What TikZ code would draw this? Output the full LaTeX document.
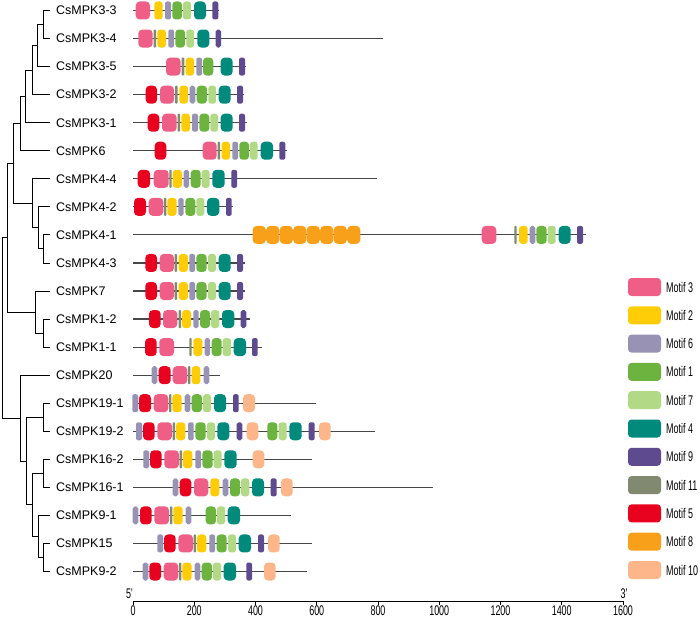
\documentclass[tikz,border=0pt]{standalone}
\usepackage{fontspec}
\setmainfont{Liberation Sans}
\usepackage{graphicx}
\usetikzlibrary{positioning}

\definecolor{mthree}{HTML}{EE5E87}
\definecolor{mtwo}{HTML}{FFCC08}
\definecolor{msix}{HTML}{9893B5}
\definecolor{mone}{HTML}{6DB33F}
\definecolor{mseven}{HTML}{B2D986}
\definecolor{mfour}{HTML}{008A7B}
\definecolor{mnine}{HTML}{5E4A8E}
\definecolor{meleven}{HTML}{818A70}
\definecolor{mfive}{HTML}{E8021F}
\definecolor{meight}{HTML}{F9A01B}
\definecolor{mten}{HTML}{FDB68A}

\tikzset{
  branch/.style={black, line width=0.9pt},
  backbone/.style={black!72, line width=1.2pt},
  axisline/.style={black, line width=0.9pt},
  gene/.style={anchor=west, inner sep=0pt, font=\fontsize{12.5}{14}\selectfont},
  legtext/.style={anchor=west, inner sep=0pt, font=\fontsize{14}{14}\selectfont},
  ticklab/.style={inner sep=0pt, font=\fontsize{14}{14}\selectfont}
}

\newcommand{\narrow}[1]{\scalebox{0.64}[1]{#1}}
% one motif box: row, from, to, colour
\newcommand{\motifbox}[4]{%
  \pgfmathsetmacro{\rr}{min(4,0.35*(#3-#2))}
  \fill[#4, rounded corners=\rr pt] (#2,{10.5+28.05*#1-9}) rectangle (#3,{10.5+28.05*#1+9});}
% one protein: row, end, list of motifs
\newcommand{\generow}[3]{%
  \draw[backbone] (133,{10.5+28.05*#1}) -- (#2,{10.5+28.05*#1});
  \foreach \a/\b/\c in {#3} {\motifbox{#1}{\a}{\b}{\c}}}

\begin{document}
\begin{tikzpicture}[x=1pt, y=-1pt]
	\useasboundingbox (0,0) rectangle (700,617);

	% leaves and names
	\foreach \g [count=\i from 0] in {CsMPK3-3,CsMPK3-4,CsMPK3-5,CsMPK3-2,CsMPK3-1,CsMPK6,CsMPK4-4,CsMPK4-2,CsMPK4-1,CsMPK4-3,CsMPK7,CsMPK1-2,CsMPK1-1,CsMPK20,CsMPK19-1,CsMPK19-2,CsMPK16-2,CsMPK16-1,CsMPK9-1,CsMPK15,CsMPK9-2} {
		\coordinate (l\i) at (50,{10.5+28.05*\i});
		\node[gene, right=6pt of l\i] (g\i) {\g};
	}

	% inner nodes of the tree
	\coordinate (n1) at (43,24.5);
	\coordinate (n2) at (37,45.6);
	\coordinate (n3) at (32,70.1);
	\coordinate (n4) at (25,96.4);
	\coordinate (n5) at (20,123.6);
	\coordinate (n6) at (43,248.9);
	\coordinate (n7) at (38,227.9);
	\coordinate (n8) at (32,203.3);
	\coordinate (n9) at (13.3,163.5);
	\coordinate (n10) at (43,333.1);
	\coordinate (n11) at (35,312.0);
	\coordinate (n12) at (7.3,237.8);
	\coordinate (n13) at (43,417.2);
	\coordinate (n14) at (43,473.3);
	\coordinate (n15) at (43,557.5);
	\coordinate (n16) at (38,536.5);
	\coordinate (n17) at (32,504.9);
	\coordinate (n18) at (26,461.1);
	\coordinate (n19) at (20,418.1);
	\coordinate (root) at (2.7,328);

	\foreach \p/\c in {n1/l0,n1/l1,n2/n1,n2/l2,n3/n2,n3/l3,n4/n3,n4/l4,n5/n4,n5/l5,
		n6/l8,n6/l9,n7/l7,n7/n6,n8/l6,n8/n7,n9/n5,n9/n8,
		n10/l11,n10/l12,n11/l10,n11/n10,n12/n9,n12/n11,
		n13/l14,n13/l15,n14/l16,n14/l17,n15/l19,n15/l20,n16/l18,n16/n15,
		n17/n14,n17/n16,n18/n13,n18/n17,n19/l13,n19/n18,root/n12,root/n19}
		\draw[branch] (\p) |- (\c);

	% motifs
	\generow{0}{219}{135.7/150/mthree,154.3/162.7/mtwo,165/171/msix,172.3/182/mone,183/191/mseven,194/206/mfour,212.3/218.3/mnine}
	\generow{1}{383.3}{138.3/152.7/mthree,153.5/156/meleven,157.3/166/mtwo,168.3/174/msix,175.3/185/mone,186.3/194/mseven,197.3/209.3/mfour,215.7/221/mnine}
	\generow{2}{246}{166/180.7/mthree,181.7/184.3/meleven,185.7/194/mtwo,196.3/202/msix,203/213.3/mone,220.7/232.7/mfour,239/245/mnine}
	\generow{3}{244.3}{145.7/157/mfive,160/174/mthree,175/177.7/meleven,179.3/188/mtwo,189.7/195.3/msix,196.7/207/mone,208.3/216/mseven,218.7/230.7/mfour,237/243/mnine}
	\generow{4}{246.7}{147.7/159.3/mfive,162/176.7/mthree,177.7/180/meleven,181.3/190/mtwo,192/198/msix,199.3/209.3/mone,210.3/218/mseven,220.7/232.7/mfour,239/245/mnine}
	\generow{5}{286.7}{154.7/166.3/mfive,202.7/216.7/mthree,217.7/220/meleven,221.7/230/mtwo,232.3/238/msix,239.3/249/mone,250/257.7/mseven,260.7/273/mfour,279.3/285.3/mnine}
	\generow{6}{376.7}{137.7/150/mfive,153.7/168.7/mthree,169.3/171.7/meleven,172.7/182/mtwo,183.7/189/msix,190.7/200.7/mone,201.7/209.7/mseven,212.3/224.7/mfour,231.3/237/mnine}
	\generow{7}{233.3}{134/146/mfive,148.7/163.3/mthree,164/166.3/meleven,167.3/176.7/mtwo,178.3/183.7/msix,185.3/195.3/mone,196.3/204.3/mseven,207/219.3/mfour,226/231.7/mnine}
	\generow{8}{585.7}{481.7/496.3/mthree,514.3/516.7/meleven,519/527.7/mtwo,529.7/535.3/msix,536.3/546.7/mone,547.7/555.7/mseven,558.7/570.7/mfour,577/583/mnine}
	\foreach \k in {0,...,7}
		\motifbox{8}{252.7+13.5*\k}{265.8+13.5*\k}{meight};
	\generow{9}{245}{145.3/157/mfive,159.7/174/mthree,174.7/177/meleven,178.7/188/mtwo,189.3/195/msix,196.3/206.7/mone,208/216/mseven,218.7/230.7/mfour,237/243/mnine}
	\generow{10}{245}{145.3/157/mfive,159.7/174/mthree,174.7/177/meleven,178.7/188/mtwo,189.3/195/msix,196.3/206.7/mone,208/216/mseven,218.7/230.7/mfour,237/243/mnine}
	\generow{11}{250}{149/160.7/mfive,163/177.3/mthree,178.7/181/meleven,182/191/mtwo,193.3/198.7/msix,200/210/mone,211/219.3/mseven,222/234.3/mfour,240.7/246.3/mnine}
	\generow{12}{261.7}{145/156.7/mfive,159.3/174/mthree,189.3/191.7/meleven,193.3/202.3/mtwo,204.7/210/msix,211.7/221.7/mone,222.7/231/mseven,233.7/246/mfour,252/257.7/mnine}
	\generow{13}{220}{151.7/157.3/msix,158.7/170.7/mfive,172.7/187.3/mthree,188/190.3/meleven,191.7/200.3/mtwo,203.7/209.3/msix}
	\generow{14}{315.7}{132.3/138/msix,139/151/mfive,153.7/168.3/mthree,169/171.3/meleven,172.3/181.7/mtwo,184.7/190.3/msix,191.7/202/mone,203/211/mseven,214/226/mfour,233/238.7/mnine,243/255/mten}
	\generow{15}{375}{136/142/msix,143/154.7/mfive,157.3/172/mthree,172.7/175/meleven,176/185.3/mtwo,188/193.7/msix,195.3/205.7/mone,207/215/mseven,217.3/229.3/mfour,236.7/242.3/mnine,246.7/258.3/mten,267.3/277.3/mone,278.7/286.7/mseven,289.3/301.7/mfour,308.7/314.7/mnine,319/330.7/mten}
	\generow{16}{312.3}{143.3/149/msix,150/161.7/mfive,164.3/179/mthree,179.7/182/meleven,183/192.3/mtwo,195.3/201/msix,202.3/212.7/mone,213.7/221.7/mseven,224.3/236.7/mfour,252.7/264.3/mten}
	\generow{17}{432.6}{172.7/178.3/msix,179.7/191.3/mfive,194/208.3/mthree,210.3/219.3/mtwo,222.7/228.3/msix,230/240/mone,241/249.3/mseven,252/264/mfour,270.7/276.7/mnine,281/292.7/mten}
	\generow{18}{290.7}{132.7/138.3/msix,140/151.7/mfive,154.3/169/mthree,170/172.3/meleven,173.3/182.7/mtwo,185.7/191.3/msix,205.7/216/mone,217/225/mseven,227.7/240/mfour}
	\generow{19}{312.3}{157.3/163/msix,164/175.7/mfive,178.3/193/mthree,193.7/196/meleven,197/206.3/mtwo,209.3/215/msix,216.7/226.7/mone,228/236/mseven,238.7/251/mfour,258/264/mnine,268/279.7/mten}
	\generow{20}{307}{142.7/148.3/msix,149.3/161/mfive,163.7/178.3/mthree,179/181.3/meleven,182.3/191.7/mtwo,194.7/200.3/msix,201.7/212/mone,213/221/mseven,223.7/236/mfour,246.3/252/mnine,264/275.7/mten}

	% legend
	\foreach \c/\t [count=\k from 0] in {mthree/3,mtwo/2,msix/6,mone/1,mseven/7,mfour/4,mnine/9,meleven/11,mfive/5,meight/8,mten/10} {
		\fill[\c, rounded corners=3.5pt] (628,{287+28.3*\k-9}) rectangle (661,{287+28.3*\k+9});
		\node[legtext] (leg\t) at (666,{287+28.3*\k}) {\narrow{Motif \t}};
	}

	% scale
	\coordinate (ax0) at (133,601);
	\coordinate (ax1) at (623,601);
	\draw[axisline] (ax0) -- (ax1);
	\foreach \v in {0,200,...,1600}
		\draw[axisline] ({133+0.30625*\v},601) -- ++(0,4) node[below, ticklab] (t\v) {\narrow{\v}};
	\node[ticklab] (five) at (129.5,594) {\narrow{5'}};
	\node[ticklab] (three) at (624,594) {\narrow{3'}};
\end{tikzpicture}
\end{document}
